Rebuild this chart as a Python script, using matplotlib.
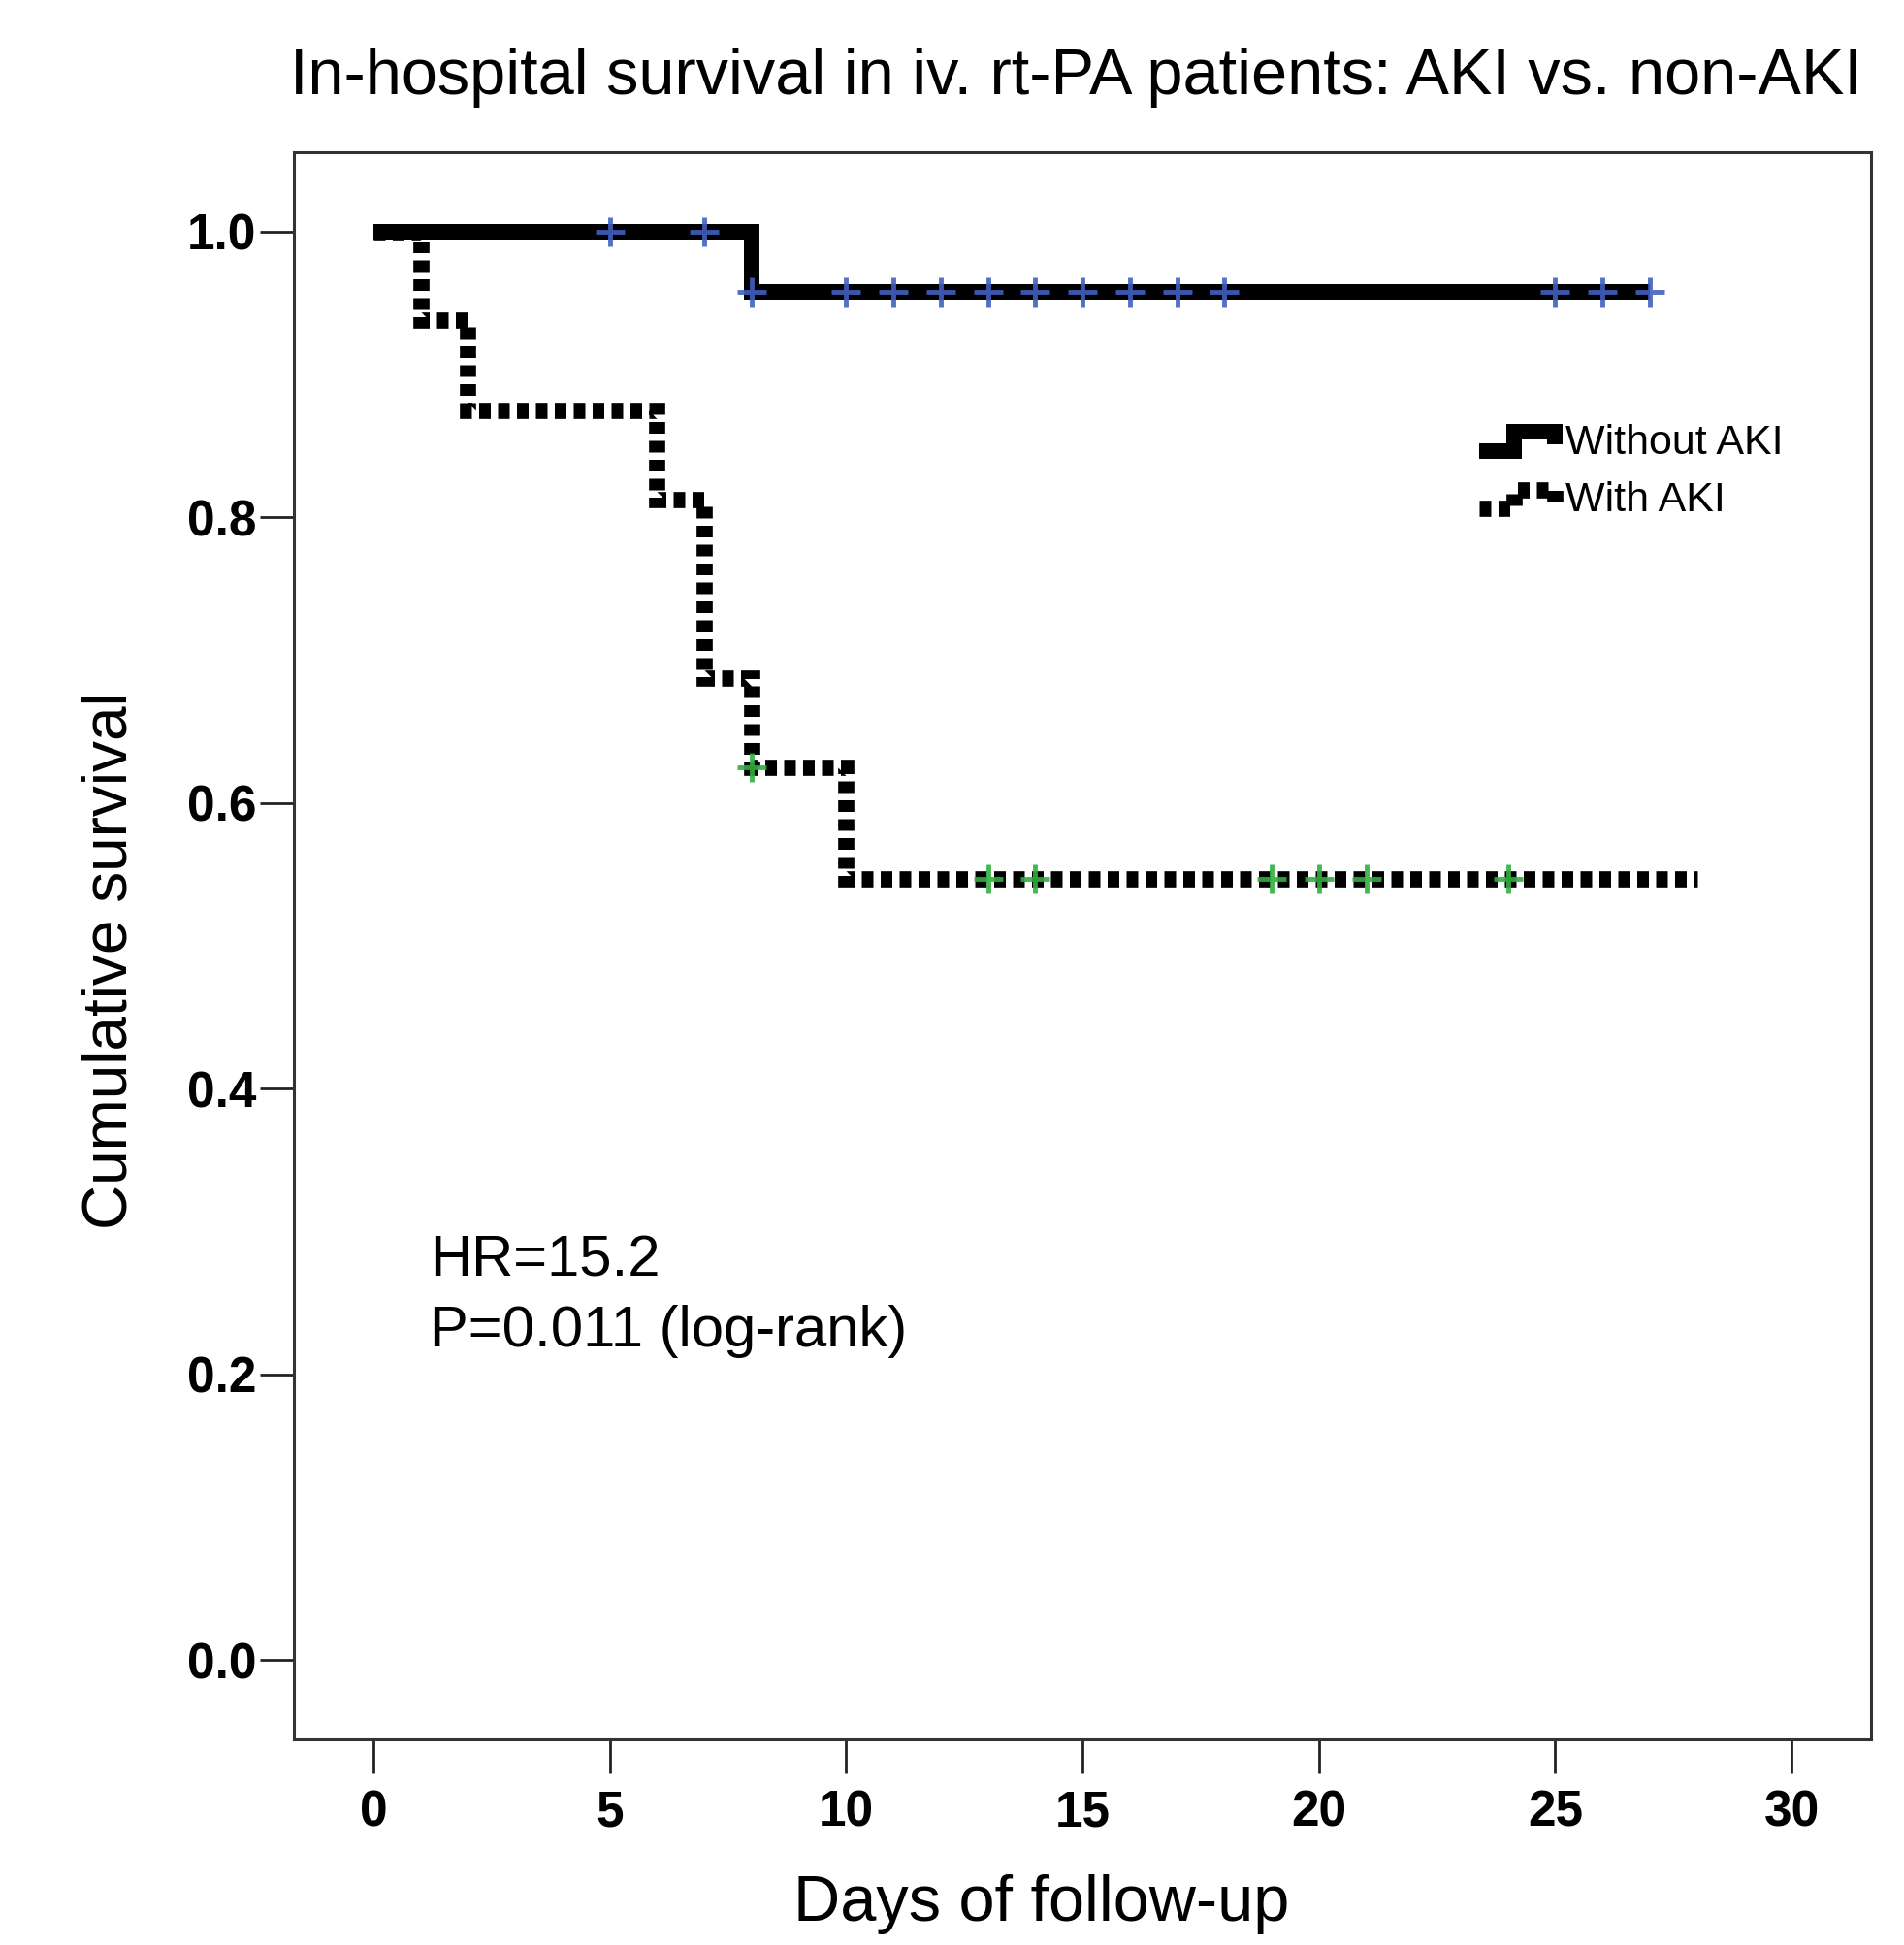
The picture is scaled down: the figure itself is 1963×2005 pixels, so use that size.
import numpy as np
import matplotlib
matplotlib.use('Agg')
import matplotlib.pyplot as plt
from matplotlib.lines import Line2D
from matplotlib.legend_handler import HandlerBase

plt.rcParams['font.family'] = ['Liberation Sans', 'DejaVu Sans']

# Kaplan-Meier steps
no_aki_t = [0, 8, 27]
no_aki_s = [1.0, 0.958, 0.958]
aki_t = [0, 1, 2, 6, 7, 8, 10, 28]
aki_s = [1.0, 0.938, 0.875, 0.8125, 0.6875, 0.625, 0.547, 0.547]

# censored cases
no_aki_cens = [5, 7, 8, 10, 11, 12, 13, 14, 15, 16, 17, 18, 25, 26, 27]
aki_cens = [8, 13, 14, 19, 20, 21, 24]

xticks = [0, 5, 10, 15, 20, 25, 30]
yticks = [0.0, 0.2, 0.4, 0.6, 0.8, 1.0]


def surv_at(t, times, surv):
    idx = np.searchsorted(times, t, side='right') - 1
    return np.array(surv)[idx]


class StepHandler(HandlerBase):
    def create_artists(self, legend, orig_handle, xdescent, ydescent,
                       width, height, fontsize, trans):
        xs = np.array([0, 0.42, 0.42, 0.9, 0.9]) * width - xdescent
        ys = np.array([0.1, 0.1, 0.75, 0.75, 0.35]) * height - ydescent
        ln = Line2D(xs, ys)
        ln.update_from(orig_handle)
        ln.set_transform(trans)
        return [ln]


fig = plt.figure(figsize=(19.63, 20.05), dpi=100)
ax = fig.add_axes([0.1544, 0.1057, 0.8283, 0.816])

l1, = ax.plot(no_aki_t, no_aki_s, drawstyle='steps-post', color='black',
              lw=11.5, solid_joinstyle='miter', solid_capstyle='butt', zorder=3)
l2, = ax.plot(aki_t, aki_s, drawstyle='steps-post', color='black',
              lw=12, linestyle=(0, (0.72, 0.45)), dash_capstyle='butt',
              dash_joinstyle='miter', zorder=2)

ax.plot(no_aki_cens, surv_at(no_aki_cens, no_aki_t, no_aki_s), linestyle='none',
        marker='+', ms=21, mew=3.5, color='#4060c0', alpha=0.9, zorder=4)
ax.plot(aki_cens, surv_at(aki_cens, aki_t, aki_s), linestyle='none',
        marker='+', ms=21, mew=3.5, color='#30b040', alpha=0.9, zorder=4)

ax.set_xlim(-1.68, 31.68)
ax.set_ylim(-0.0556, 1.0556)
ax.set_xticks(xticks)
ax.set_yticks(yticks)
ax.set_xticklabels([str(v) for v in xticks], fontsize=37, fontweight='bold')
ax.set_yticklabels(['%.1f' % v for v in yticks], fontsize=37, fontweight='bold')
ax.tick_params(axis='both', direction='out', length=25, width=2, color='#222222')
ax.tick_params(axis='x', pad=12)
ax.tick_params(axis='y', pad=3)
for sp in ax.spines.values():
    sp.set_linewidth(2.2)
    sp.set_color('#333333')

ax.text(1.2, 0.279, 'HR=15.2', fontsize=43, va='center', ha='left')
ax.text(1.2, 0.230, 'P=0.011 (log-rank)', fontsize=43, va='center', ha='left')

fig.text(0.565, 0.960, 'In-hospital survival in iv. rt-PA patients: AKI vs. non-AKI',
         fontsize=48, ha='center', va='center')
fig.text(0.547, 0.021, 'Days of follow-up', fontsize=48, ha='center', va='center')
fig.text(0.058, 0.506, 'Cumulative survival', fontsize=46, rotation=90,
         ha='center', va='center')

fig.legend([l1, l2], ['Without AKI', 'With AKI'], loc='upper left',
           bbox_to_anchor=(0.777, 0.782), frameon=False, fontsize=31,
           handlelength=2.0, handletextpad=0.05, labelspacing=0.45,
           borderpad=0, borderaxespad=0,
           handler_map={Line2D: StepHandler()})

fig.savefig('out.png', dpi=100)
